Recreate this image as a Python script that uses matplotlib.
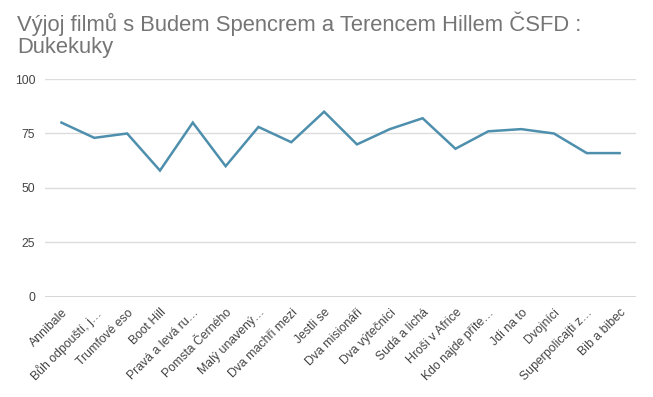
import matplotlib
matplotlib.use("Agg")
import matplotlib.pyplot as plt

films = ["Annibale", "Bůh odpouští, j…", "Trumfové eso", "Boot Hill", "Pravá a levá ru…",
         "Pomsta Černého", "Malý unavený…", "Dva machři mezi", "Jestli se", "Dva misionáři",
         "Dva výtečníci", "Sudá a lichá", "Hroši v Africe", "Kdo najde příte…", "Jdi na to",
         "Dvojníci", "Superpolicajti z…", "Bib a bibec"]
ratings = [80, 73, 75, 58, 80, 60, 78, 71, 85, 70, 77, 82, 68, 76, 77, 75, 66, 66]
yticks = [0, 25, 50, 75, 100]

plt.rcParams['font.family'] = ['Liberation Sans', 'DejaVu Sans']
fig = plt.figure(figsize=(6.53, 3.97), dpi=100)
ax = fig.add_axes([0.069, 0.252, 0.905, 0.549])

x = list(range(len(films)))
ax.plot(x, ratings, color="#4e8fad", linewidth=1.8, solid_joinstyle="miter")
ax.set_xlim(-0.5, len(films) - 0.5)
ax.set_ylim(0, 100)
ax.set_yticks(yticks)
ax.set_yticklabels([str(v) for v in yticks])
for v in yticks[1:]:
    ax.axhline(v, color="#dcdcdc", linewidth=1, zorder=0)
ax.axhline(0, color="#333333", linewidth=1, zorder=1)
for s in ax.spines.values():
    s.set_visible(False)
ax.set_xticks(x)
ax.set_xticklabels(films, rotation=45, ha="right", rotation_mode="anchor", fontsize=8.8, color="#444444")
ax.tick_params(axis="x", length=0, pad=7)
ax.tick_params(axis="y", length=0, pad=7, labelsize=8.8, labelcolor="#444444")

fig.text(0.026, 0.972, "Výjoj filmů s Budem Spencrem a Terencem Hillem ČSFD :\nDukekuky",
         fontsize=15.8, color="#757575", va="top", ha="left", linespacing=1.1)

fig.savefig("out.png", dpi=100)
